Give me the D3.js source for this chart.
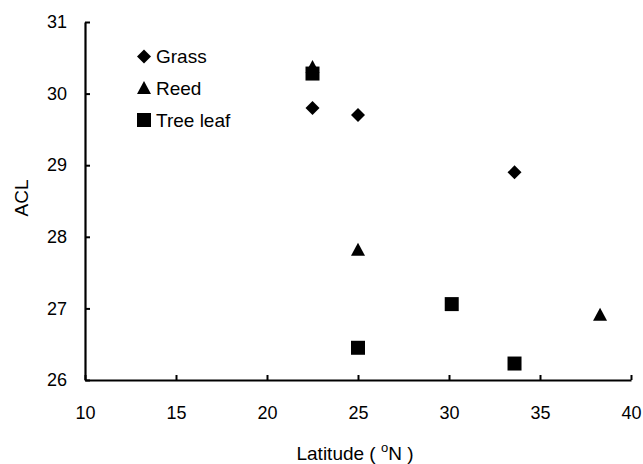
<!DOCTYPE html>
<html><head><meta charset="utf-8">
<script src="https://cdn.jsdelivr.net/npm/d3@7"></script>
<style>body{margin:0;background:#fff}text{font-family:Arial,"Liberation Sans",sans-serif;fill:#000}</style>
</head><body>
<svg id="c" width="643" height="464"></svg>
<script>
const series = ["Grass", "Reed", "Tree leaf"];
const grassLat = [22.5, 25.0, 33.6];
const grassACL = [29.8, 29.7, 28.9];
const reedLat = [22.5, 25.0, 38.3];
const reedACL = [30.37, 27.82, 26.91];
const leafLat = [22.5, 25.0, 30.15, 33.6];
const leafACL = [30.28, 26.45, 27.06, 26.23];
const xTicks = [10, 15, 20, 25, 30, 35, 40];
const yTicks = [26, 27, 28, 29, 30, 31];

const svg = d3.select("#c");
const x = d3.scaleLinear().domain([10, 40]).range([85, 631]);
const y = d3.scaleLinear().domain([26, 31]).range([380, 22]);

const xAxis = d3.axisBottom(x).tickValues(xTicks).tickFormat(d3.format("d")).tickSizeInner(-5).tickSizeOuter(0).tickPadding(26);
const yAxis = d3.axisLeft(y).tickValues(yTicks).tickFormat(d3.format("d")).tickSizeInner(-5).tickSizeOuter(0).tickPadding(18);
const gx = svg.append("g").attr("transform", "translate(0,380)").call(xAxis);
const gy = svg.append("g").attr("transform", "translate(85,0)").call(yAxis);
[gx, gy].forEach(g => {
  g.select(".domain").attr("stroke", "#000").attr("stroke-width", 2.2);
  g.selectAll(".tick line").attr("stroke", "#000").attr("stroke-width", 2);
  g.selectAll(".tick text").style("font-size", "18px").attr("fill", "#000");
});

function sym(name) {
  if (name === "Grass") return d3.symbol(d3.symbolSquare, 98)();
  if (name === "Reed") return "M0,-7L7,6L-7,6Z";
  return d3.symbol(d3.symbolSquare, 196)();
}
function draw(name, lats, acls) {
  const data = lats.map((v, i) => ({lat: v, acl: acls[i]}));
  svg.append("g").selectAll("path").data(data).join("path")
    .attr("d", sym(name))
    .attr("transform", d => `translate(${x(d.lat)},${y(d.acl)})` + (name === "Grass" ? " rotate(45)" : ""))
    .attr("fill", "#000");
}
draw("Reed", reedLat, reedACL);
draw("Tree leaf", leafLat, leafACL);
draw("Grass", grassLat, grassACL);

// legend
const leg = svg.append("g");
const legY = [56.5, 88, 120];
series.forEach((s, i) => {
  leg.append("path").attr("d", sym(s))
    .attr("transform", `translate(144,${legY[i]})` + (s === "Grass" ? " rotate(45)" : ""))
    .attr("fill", "#000");
  leg.append("text").attr("x", 156).attr("y", legY[i] + 6.5).style("font-size", "19px").text(s);
});

// axis titles
svg.append("text").attr("transform", "translate(28,198) rotate(-90)").attr("text-anchor", "middle")
  .style("font-size", "19px").text("ACL");
const xt = svg.append("text").attr("x", 355).attr("y", 460).attr("text-anchor", "middle").style("font-size", "19px");
xt.append("tspan").text("Latitude ( ");
xt.append("tspan").attr("dy", -8).style("font-size", "13px").text("o");
xt.append("tspan").attr("dy", 8).text("N )");
</script>
</body></html>
